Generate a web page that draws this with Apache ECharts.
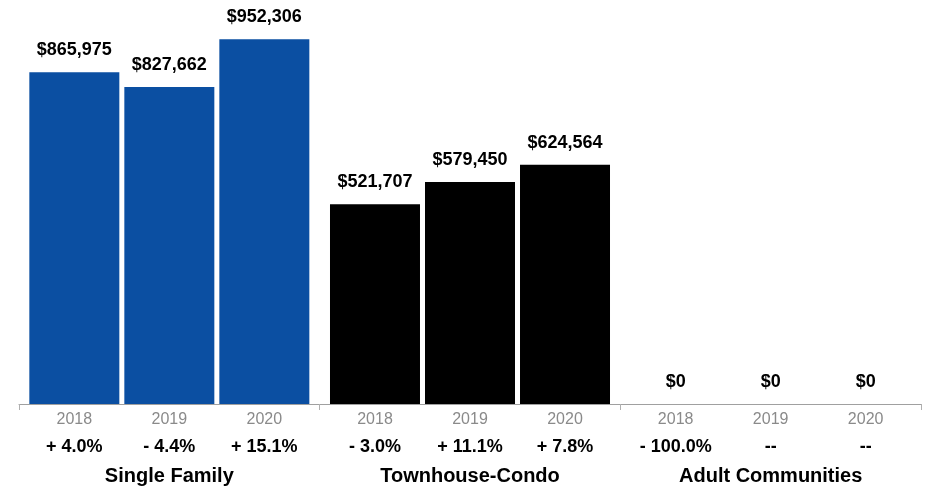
<!DOCTYPE html>
<html>
<head>
<meta charset="utf-8">
<style>
  html, body { margin: 0; padding: 0; background: #fff; }
  #chart { width: 928px; height: 490px; }
</style>
<script src="https://cdn.jsdelivr.net/npm/echarts@6/dist/echarts.min.js"></script>
</head>
<body>
<div id="chart"></div>
<script>
// Median sale price by property type and year
const groups = ['Single Family', 'Townhouse-Condo', 'Adult Communities'];
const years = ['2018', '2019', '2020'];
const groupColors = ['#0b4fa2', '#000000', '#000000'];

// values[yearIndex][groupIndex]
const price2018 = [865975, 521707, 0];
const price2019 = [827662, 579450, 0];
const price2020 = [952306, 624564, 0];

// year-over-year change labels, [yearIndex][groupIndex]
const change2018 = ['+ 4.0%', '- 3.0%', '- 100.0%'];
const change2019 = ['- 4.4%', '+ 11.1%', '--'];
const change2020 = ['+ 15.1%', '+ 7.8%', '--'];

const prices = [price2018, price2019, price2020];
const changes = [change2018, change2019, change2020];

const FONT = '"Liberation Sans", Arial, Helvetica, sans-serif';

const fmtMoney = v => '$' + v.toLocaleString('en-US');

const valueSeries = years.map((yr, yi) => ({
  type: 'bar',
  name: yr,
  xAxisIndex: 0,
  barWidth: 90,
  barGap: '5.56%',
  data: prices[yi].map((v, gi) => ({ value: v, itemStyle: { color: groupColors[gi] } })),
  label: {
    show: true,
    position: 'top',
    distance: 13,
    color: '#000',
    fontFamily: FONT,
    fontWeight: 'bold',
    fontSize: 18,
    formatter: p => fmtMoney(p.value)
  },
  emphasis: { disabled: true },
  animation: false
}));

// zero-height bars on a hidden twin axis carry the year / change text under each bar
const captionSeries = years.map((yr, yi) => ({
  type: 'bar',
  name: yr + ' caption',
  xAxisIndex: 1,
  barWidth: 90,
  barGap: '5.56%',
  data: prices[yi].map(() => 0),
  itemStyle: { color: 'transparent' },
  label: {
    show: true,
    position: 'bottom',
    distance: 5,
    fontFamily: FONT,
    formatter: p => '{yr|' + yr + '}\n{pct|' + changes[yi][p.dataIndex] + '}',
    rich: {
      yr: { fontFamily: FONT, fontSize: 16, color: '#8a8a8a', lineHeight: 22, align: 'center' },
      pct: { fontFamily: FONT, fontSize: 18, fontWeight: 'bold', color: '#000', lineHeight: 32, align: 'center' }
    }
  },
  emphasis: { disabled: true },
  animation: false
}));

const chart = echarts.init(document.getElementById('chart'));
chart.setOption({
  backgroundColor: '#fff',
  animation: false,
  grid: { left: 19, right: 7, top: 21, bottom: 86, containLabel: false },
  xAxis: [
    {
      type: 'category',
      data: groups,
      position: 'bottom',
      boundaryGap: true,
      axisLine: { show: true, lineStyle: { color: '#a0a0a0', width: 1 } },
      axisTick: { show: true, length: 6, lineStyle: { color: '#b0b0b0' } },
      axisLabel: {
        margin: 62,
        fontFamily: FONT,
        fontSize: 20,
        fontWeight: 'bold',
        color: '#000',
        lineHeight: 20
      },
      splitLine: { show: false }
    },
    {
      type: 'category',
      data: groups,
      position: 'bottom',
      show: false
    }
  ],
  yAxis: {
    type: 'value',
    min: 0,
    max: 1000000,
    show: false,
    splitLine: { show: false }
  },
  series: valueSeries.concat(captionSeries)
});
</script>
</body>
</html>
